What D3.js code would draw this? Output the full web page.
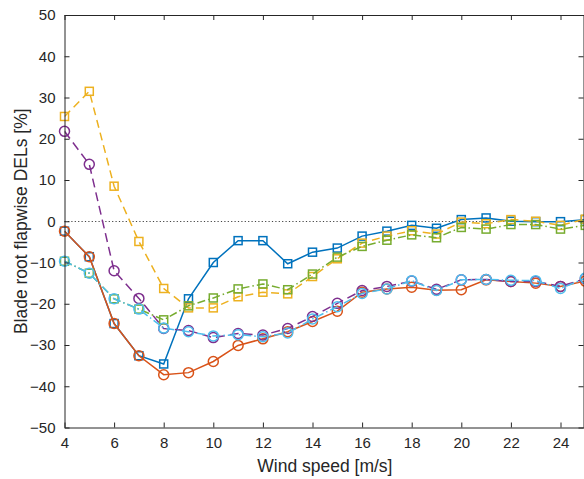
<!DOCTYPE html>
<html>
<head>
<meta charset="utf-8">
<script src="https://cdn.jsdelivr.net/npm/d3@7"></script>
<style>
  html, body { margin: 0; padding: 0; background: #fff; }
  svg { display: block; font-family: "Liberation Sans", Arial, Helvetica, sans-serif; }
</style>
</head>
<body>
<svg id="chart" width="584" height="479"></svg>
<script>
// Wind speeds [m/s]
const windSpeed = [4, 5, 6, 7, 8, 9, 10, 11, 12, 13, 14, 15, 16, 17, 18, 19, 20, 21, 22, 23, 24, 25];

// Relative change in blade root flapwise DELs [%] for each case
const blueSquares   = [-2.4, -8.6, -24.8, -32.6, -34.6, -18.8, -10.0, -4.7, -4.7, -10.3, -7.5, -6.5, -3.6, -2.4, -1.0, -1.7, 0.4, 0.8, 0.0, -0.1, -0.1, 0.4];
const orangeCircles = [-2.4, -8.6, -24.8, -32.6, -37.2, -36.7, -34.0, -30.1, -28.5, -26.8, -24.3, -21.8, -17.2, -16.4, -16.0, -16.7, -16.6, -14.2, -14.6, -15.0, -15.8, -14.5];
const yellowSquares = [25.4, 31.5, 8.5, -4.9, -16.3, -21.0, -21.0, -18.3, -17.2, -17.6, -13.4, -9.1, -5.3, -3.6, -2.3, -3.1, -0.2, -0.6, 0.4, 0.0, -1.0, 0.5];
const purpleCircles = [21.8, 13.8, -12.0, -18.7, -26.0, -26.5, -28.2, -27.2, -27.6, -26.0, -23.1, -19.9, -16.8, -15.8, -14.5, -16.5, -14.2, -14.1, -14.6, -14.6, -15.8, -13.9];
const greenSquares  = [-9.7, -12.6, -18.8, -21.3, -23.9, -20.5, -18.6, -16.4, -15.2, -16.6, -12.8, -8.7, -6.1, -4.6, -3.3, -4.0, -1.5, -1.9, -0.8, -0.8, -1.9, -1.0];
const cyanCircles   = [-9.7, -12.6, -18.8, -21.3, -25.9, -26.8, -27.8, -27.5, -28.0, -27.1, -23.7, -20.7, -17.5, -16.4, -14.4, -16.8, -14.2, -14.1, -14.3, -14.4, -16.3, -13.8];

const xTicks = [4, 6, 8, 10, 12, 14, 16, 18, 20, 22, 24];
const yTicks = [-50, -40, -30, -20, -10, 0, 10, 20, 30, 40, 50];

const series = [
  { values: blueSquares,   color: "#0072BD", dash: null,        marker: "square" },
  { values: orangeCircles, color: "#D95319", dash: null,        marker: "circle" },
  { values: yellowSquares, color: "#EDB120", dash: "8,5",       marker: "square" },
  { values: purpleCircles, color: "#7E2F8E", dash: "9,5",       marker: "circle" },
  { values: greenSquares,  color: "#77AC30", dash: "8,3,1.5,3", marker: "square" },
  { values: cyanCircles,   color: "#4DBEEE", dash: "8,3,1.5,3", marker: "circle" }
];

const svg = d3.select("#chart");
const plotLeft = 64.5, plotRight = 585.3, plotTop = 15, plotBottom = 427.5;
const axisColor = "#262626";

const x = d3.scaleLinear().domain([4, 25]).range([plotLeft, plotRight]);
const y = d3.scaleLinear().domain([-50, 50]).range([plotBottom, plotTop]);

// Clip region for the data lines
svg.append("defs").append("clipPath").attr("id", "plotClip")
  .append("rect").attr("x", plotLeft).attr("y", plotTop)
  .attr("width", plotRight - plotLeft).attr("height", plotBottom - plotTop);

// Zero reference line
svg.append("line")
  .attr("x1", x(4)).attr("x2", x(25))
  .attr("y1", Math.round(y(0)) + 0.5).attr("y2", Math.round(y(0)) + 0.5)
  .attr("stroke", "#444").attr("stroke-width", 1.1)
  .attr("stroke-dasharray", "1.2,2.2");

const line = d3.line()
  .x((d, i) => x(windSpeed[i]))
  .y(d => y(d));

series.forEach(s => {
  const g = svg.append("g");
  g.append("path")
    .datum(s.values)
    .attr("d", line)
    .attr("fill", "none")
    .attr("stroke", s.color)
    .attr("stroke-width", 1.5)
    .attr("stroke-dasharray", s.dash)
    .attr("clip-path", "url(#plotClip)");

  const pts = s.values.map((v, i) => ({ wx: windSpeed[i], v }));
  if (s.marker === "circle") {
    g.selectAll("circle").data(pts).join("circle")
      .attr("cx", d => x(d.wx)).attr("cy", d => y(d.v)).attr("r", 5)
      .attr("fill", "none").attr("stroke", s.color).attr("stroke-width", 1.5);
  } else {
    const side = 8;
    g.selectAll("rect").data(pts).join("rect")
      .attr("x", d => x(d.wx) - side / 2).attr("y", d => y(d.v) - side / 2)
      .attr("width", side).attr("height", side)
      .attr("fill", "none").attr("stroke", s.color).attr("stroke-width", 1.5);
  }
});

// Axes: ticks point inward on all four sides
function styleAxis(g) {
  g.selectAll("path.domain").attr("stroke", axisColor).attr("stroke-width", 1);
  g.selectAll(".tick line").attr("stroke", axisColor).attr("stroke-width", 1);
  g.selectAll(".tick text").attr("fill", axisColor).style("font-size", "15px")
    .style("font-family", "'Liberation Sans', Arial, Helvetica, sans-serif");
}

svg.append("g")
  .attr("transform", `translate(0,${plotBottom})`)
  .call(d3.axisBottom(x).tickValues(xTicks).tickFormat(d3.format("d")).tickSizeInner(-5).tickSizeOuter(0).tickPadding(10))
  .call(styleAxis);

svg.append("g")
  .attr("transform", `translate(0,${plotTop})`)
  .call(d3.axisTop(x).tickValues(xTicks).tickFormat("").tickSizeInner(-5).tickSizeOuter(0))
  .call(styleAxis);

svg.append("g")
  .attr("transform", `translate(${plotLeft},0)`)
  .call(d3.axisLeft(y).tickValues(yTicks).tickFormat(d3.format("d")).tickSizeInner(-5).tickSizeOuter(0).tickPadding(9))
  .call(styleAxis);

svg.append("g")
  .attr("transform", `translate(${Math.min(plotRight, 583.5)},0)`)
  .call(d3.axisRight(y).tickValues(yTicks).tickFormat("").tickSizeInner(-5).tickSizeOuter(0))
  .call(styleAxis);

// Axis titles
svg.append("text")
  .attr("x", (plotLeft + plotRight) / 2).attr("y", 472)
  .attr("text-anchor", "middle")
  .attr("fill", axisColor)
  .style("font-size", "17.5px")
  .text("Wind speed [m/s]");

svg.append("text")
  .attr("transform", `translate(27,${(plotTop + plotBottom) / 2}) rotate(-90)`)
  .attr("text-anchor", "middle")
  .attr("fill", axisColor)
  .style("font-size", "17.5px")
  .text("Blade root flapwise DELs [%]");
</script>
</body>
</html>
